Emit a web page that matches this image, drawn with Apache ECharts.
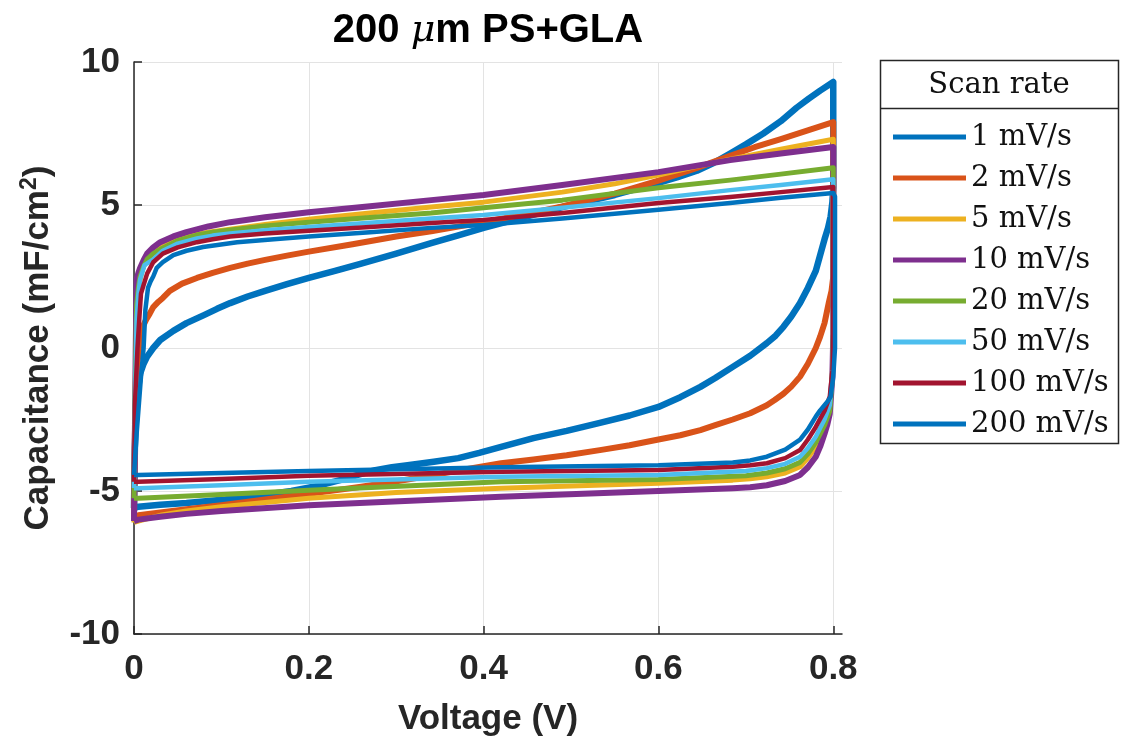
<!DOCTYPE html>
<html><head><meta charset="utf-8">
<script src="https://cdn.jsdelivr.net/npm/echarts@6/dist/echarts.min.js"></script>
<style>html,body{margin:0;padding:0;background:#fff}#c{width:1121px;height:743px}</style>
</head><body><div id="c"></div>
<script>
// ---- data ----
const scanRates = ['1 mV/s','2 mV/s','5 mV/s','10 mV/s','20 mV/s','50 mV/s','100 mV/s','200 mV/s'];
const seriesColors = ['#0072BD','#D95319','#EDB120','#7E2F8E','#77AC30','#4DBEEE','#A2142F','#0072BD'];
const xTicks = [0, 0.2, 0.4, 0.6, 0.8];
const yTicks = [-10, -5, 0, 5, 10];

// each loop: [voltage (V), capacitance (mF/cm2)], in scan order (forward then reverse)
const rate1 = [[0,-5.6],[0.001,-3.5],[0.003,-1.8],[0.007,-0.9],[0.011,-0.55],[0.015,-0.3],[0.022,0.0],[0.03,0.28],[0.045,0.6],[0.06,0.87],[0.08,1.15],[0.095,1.37],[0.11,1.57],[0.13,1.8],[0.15,2.0],[0.175,2.23],[0.2,2.45],[0.23,2.7],[0.26,2.95],[0.3,3.3],[0.34,3.67],[0.37,3.93],[0.4,4.2],[0.45,4.6],[0.49,4.93],[0.55,5.35],[0.6,5.77],[0.622,5.97],[0.644,6.2],[0.663,6.47],[0.682,6.8],[0.7,7.12],[0.72,7.5],[0.74,7.93],[0.758,8.4],[0.772,8.72],[0.785,9.0],[0.8,9.3],
  [0.8,5.6],[0.799,5.1],[0.797,4.6],[0.794,4.2],[0.79,3.8],[0.785,3.25],[0.78,2.7],[0.771,2.1],[0.762,1.57],[0.752,1.1],[0.743,0.74],[0.734,0.43],[0.724,0.17],[0.705,-0.27],[0.685,-0.66],[0.665,-1.05],[0.648,-1.36],[0.625,-1.72],[0.6,-2.06],[0.567,-2.36],[0.533,-2.62],[0.495,-2.9],[0.457,-3.15],[0.42,-3.46],[0.395,-3.67],[0.371,-3.85],[0.343,-3.98],[0.313,-4.1],[0.295,-4.17],[0.276,-4.27],[0.258,-4.42],[0.238,-4.6],[0.21,-4.82],[0.18,-5.0],[0.14,-5.17],[0.104,-5.3],[0.06,-5.42],[0.03,-5.48],[0.005,-5.55],[0,-5.6]];
const rate2 = [[0,-5.9],[0.001,-3],[0.004,-0.5],[0.008,0.4],[0.01,0.74],[0.014,1.0],[0.018,1.2],[0.022,1.43],[0.028,1.62],[0.033,1.75],[0.041,2.0],[0.055,2.25],[0.072,2.45],[0.09,2.63],[0.11,2.8],[0.13,2.95],[0.15,3.08],[0.175,3.23],[0.2,3.37],[0.25,3.63],[0.3,3.9],[0.34,4.08],[0.4,4.4],[0.45,4.7],[0.49,4.95],[0.55,5.4],[0.6,5.85],[0.644,6.3],[0.682,6.72],[0.71,7.02],[0.74,7.3],[0.77,7.6],[0.8,7.9],
  [0.8,2.5],[0.798,2.0],[0.795,1.6],[0.79,0.87],[0.785,0.4],[0.78,0],[0.771,-0.55],[0.762,-1.0],[0.752,-1.35],[0.743,-1.6],[0.733,-1.82],[0.724,-2.0],[0.705,-2.28],[0.685,-2.5],[0.665,-2.7],[0.648,-2.87],[0.625,-3.05],[0.6,-3.2],[0.567,-3.4],[0.533,-3.57],[0.495,-3.75],[0.457,-3.9],[0.42,-4.03],[0.365,-4.32],[0.313,-4.6],[0.26,-4.85],[0.2,-5.1],[0.15,-5.3],[0.1,-5.5],[0.06,-5.64],[0.03,-5.75],[0.005,-5.85],[0,-5.9]];
const rate5 = [[0,-6.1],[0.001,-3],[0.003,0],[0.005,2.0],[0.007,2.4],[0.01,2.8],[0.015,3.13],[0.02,3.35],[0.033,3.6],[0.045,3.77],[0.06,3.9],[0.085,4.05],[0.11,4.15],[0.15,4.32],[0.2,4.5],[0.27,4.72],[0.34,4.93],[0.4,5.1],[0.49,5.45],[0.55,5.74],[0.6,6.05],[0.64,6.33],[0.682,6.6],[0.74,6.95],[0.8,7.3],
  [0.8,0.5],[0.799,-0.8],[0.797,-1.8],[0.794,-2.25],[0.79,-2.6],[0.785,-3.05],[0.78,-3.45],[0.771,-3.85],[0.762,-4.15],[0.745,-4.37],[0.724,-4.5],[0.705,-4.57],[0.685,-4.62],[0.6,-4.73],[0.42,-4.9],[0.3,-5.05],[0.2,-5.25],[0.1,-5.55],[0.06,-5.7],[0.03,-5.85],[0.005,-6.05],[0,-6.1]];
const rate10 = [[0,-6.05],[0.001,-3],[0.002,0],[0.003,2.4],[0.005,2.62],[0.007,2.8],[0.011,3.07],[0.015,3.3],[0.022,3.52],[0.03,3.7],[0.045,3.9],[0.06,4.05],[0.085,4.25],[0.11,4.4],[0.15,4.57],[0.2,4.75],[0.27,4.96],[0.34,5.17],[0.4,5.35],[0.49,5.7],[0.6,6.15],[0.682,6.57],[0.74,6.8],[0.8,7.03],
  [0.8,0.5],[0.799,-1],[0.796,-2.3],[0.793,-2.7],[0.79,-3.0],[0.785,-3.45],[0.78,-3.8],[0.771,-4.17],[0.762,-4.44],[0.745,-4.65],[0.724,-4.8],[0.705,-4.87],[0.685,-4.9],[0.6,-5.0],[0.42,-5.2],[0.2,-5.5],[0.1,-5.7],[0.06,-5.8],[0.03,-5.9],[0.005,-6.0],[0,-6.05]];
const rate20 = [[0,-5.25],[0.001,-2],[0.003,1.5],[0.005,2.1],[0.007,2.5],[0.011,2.85],[0.015,3.1],[0.022,3.3],[0.033,3.5],[0.05,3.75],[0.072,3.95],[0.09,4.05],[0.11,4.13],[0.15,4.27],[0.2,4.4],[0.27,4.56],[0.34,4.72],[0.4,4.9],[0.49,5.17],[0.6,5.6],[0.682,5.87],[0.74,6.08],[0.8,6.3],
  [0.8,0.5],[0.799,-1],[0.796,-2.2],[0.793,-2.45],[0.79,-2.7],[0.785,-3.0],[0.78,-3.3],[0.771,-3.7],[0.762,-4.0],[0.745,-4.22],[0.724,-4.37],[0.7,-4.47],[0.6,-4.6],[0.42,-4.68],[0.2,-4.97],[0.1,-5.12],[0.005,-5.25],[0,-5.25]];
const rate50 = [[0,-4.9],[0.001,-2],[0.003,1.0],[0.005,1.9],[0.007,2.4],[0.012,2.9],[0.022,3.1],[0.033,3.4],[0.05,3.65],[0.072,3.83],[0.09,3.93],[0.11,4.0],[0.15,4.12],[0.2,4.23],[0.27,4.38],[0.34,4.53],[0.4,4.65],[0.49,4.9],[0.6,5.24],[0.682,5.52],[0.74,5.7],[0.8,5.9],
  [0.8,0.5],[0.799,-1],[0.796,-2],[0.793,-2.25],[0.79,-2.5],[0.785,-2.8],[0.78,-3.1],[0.771,-3.5],[0.762,-3.8],[0.745,-4.05],[0.724,-4.2],[0.7,-4.3],[0.6,-4.44],[0.42,-4.5],[0.2,-4.68],[0.1,-4.8],[0.005,-4.9],[0,-4.9]];
const rate100 = [[0,-4.68],[0.001,-2],[0.004,0],[0.006,1.0],[0.008,1.9],[0.01,2.1],[0.015,2.6],[0.022,3.0],[0.033,3.3],[0.05,3.52],[0.072,3.7],[0.09,3.8],[0.11,3.9],[0.15,4.0],[0.2,4.1],[0.27,4.23],[0.34,4.37],[0.4,4.48],[0.49,4.72],[0.6,5.07],[0.682,5.28],[0.74,5.45],[0.8,5.63],
  [0.8,0.5],[0.799,-0.8],[0.796,-1.7],[0.793,-1.95],[0.79,-2.2],[0.785,-2.48],[0.78,-2.76],[0.771,-3.2],[0.762,-3.57],[0.745,-3.85],[0.724,-4.03],[0.705,-4.1],[0.685,-4.15],[0.6,-4.27],[0.42,-4.33],[0.2,-4.47],[0.1,-4.58],[0.005,-4.68],[0,-4.68]];
const rate200 = [[0,-4.44],[0.003,-3],[0.008,-1],[0.011,0],[0.013,1.33],[0.016,2.1],[0.019,2.33],[0.022,2.5],[0.026,2.8],[0.033,3.0],[0.045,3.25],[0.06,3.4],[0.079,3.53],[0.118,3.7],[0.16,3.8],[0.2,3.9],[0.27,4.05],[0.34,4.2],[0.4,4.3],[0.49,4.53],[0.6,4.83],[0.682,5.07],[0.74,5.25],[0.8,5.42],
  [0.802,5.3],[0.802,0],[0.8,-1],[0.797,-1.7],[0.794,-1.85],[0.79,-2.0],[0.785,-2.18],[0.78,-2.4],[0.771,-2.85],[0.762,-3.2],[0.745,-3.55],[0.724,-3.8],[0.705,-3.93],[0.685,-4.0],[0.6,-4.1],[0.42,-4.17],[0.2,-4.3],[0.1,-4.37],[0.005,-4.44],[0,-4.44]];

const loops = [rate1, rate2, rate5, rate10, rate20, rate50, rate100, rate200];
const lineWidths = [6.5, 6, 5, 6, 5, 4.5, 4.5, 4.5];

// ---- chart ----
const chart = echarts.init(document.getElementById('c'), null, {renderer: 'canvas'});
const axisColor = '#262626';
const sans = 'Liberation Sans, Arial, Helvetica, sans-serif';
const serif = 'DejaVu Serif, serif';

const series = loops.map((d, i) => ({
  name: scanRates[i],
  type: 'line',
  data: d,
  showSymbol: false,
  symbol: 'none',
  clip: false,
  lineStyle: {color: seriesColors[i], width: lineWidths[i], join: 'round'},
  itemStyle: {color: seriesColors[i]},
  emphasis: {disabled: true}
}));

chart.setOption({
  animation: false,
  backgroundColor: '#fff',
  grid: {left: 134, top: 62, width: 708, height: 572, containLabel: false},
  xAxis: {
    type: 'value', min: 0, max: 0.81, interval: 0.2,
    name: 'Voltage (V)', nameLocation: 'middle', nameGap: 68,
    nameTextStyle: {fontFamily: sans, fontWeight: 'bold', fontSize: 35, color: axisColor},
    axisLine: {show: true, onZero: false, lineStyle: {color: axisColor, width: 1.5}},
    axisTick: {show: true, inside: true, length: 8, customValues: xTicks, lineStyle: {color: axisColor, width: 1.5}},
    axisLabel: {customValues: xTicks, margin: 18, fontFamily: sans, fontWeight: 'bold', fontSize: 35, color: axisColor,
      formatter: v => String(+v.toFixed(1))},
    splitLine: {show: true, lineStyle: {color: '#e3e3e3', width: 1}}
  },
  yAxis: {
    type: 'value', min: -10, max: 10, interval: 5,
    name: '{a|Capacitance (mF/cm}{s|2}{a|)}', nameLocation: 'middle', nameGap: 76,
    nameTextStyle: {fontFamily: sans, fontWeight: 'bold', fontSize: 35, color: axisColor,
      rich: {
        a: {fontFamily: sans, fontWeight: 'bold', fontSize: 35, color: axisColor, lineHeight: 40},
        s: {fontFamily: sans, fontWeight: 'bold', fontSize: 23, color: axisColor, verticalAlign: 'top', lineHeight: 40, padding: [0, 0, 14, 0]}
      }},
    axisLine: {show: true, onZero: false, lineStyle: {color: axisColor, width: 1.5}},
    axisTick: {show: true, inside: true, length: 8, customValues: yTicks, lineStyle: {color: axisColor, width: 1.5}},
    axisLabel: {customValues: yTicks, margin: 14, fontFamily: sans, fontWeight: 'bold', fontSize: 35, color: axisColor},
    splitLine: {show: true, lineStyle: {color: '#e3e3e3', width: 1}}
  },
  legend: {
    show: true, orient: 'vertical', left: 888, top: 115,
    icon: 'rect', itemWidth: 73, itemHeight: 5, itemGap: 7,
    data: scanRates,
    selectedMode: false,
    textStyle: {fontFamily: serif, fontSize: 29, color: '#111', lineHeight: 34}
  },
  graphic: [
    {type: 'rect', z: -1, shape: {x: 880.5, y: 60.5, width: 238, height: 383},
      style: {fill: '#fff', stroke: axisColor, lineWidth: 1.5}},
    {type: 'line', shape: {x1: 880.5, y1: 108.5, x2: 1118.5, y2: 108.5},
      style: {stroke: axisColor, lineWidth: 1.5}},
    {type: 'text', x: 999, y: 85, style: {text: 'Scan rate', fontFamily: serif, fontSize: 29, fill: '#111', align: 'center', verticalAlign: 'middle'}},
    {type: 'text', x: 488, y: 31, style: {
      text: '{a|200 }{b|μ}{a|m PS+GLA}', align: 'center', verticalAlign: 'middle',
      rich: {
        a: {fontFamily: sans, fontWeight: 'bold', fontSize: 40, fill: '#000', color: '#000'},
        b: {fontFamily: 'DejaVu Serif, serif', fontStyle: 'italic', fontSize: 38, fill: '#000', color: '#000'}
      }
    }}
  ],
  series: series
});
</script></body></html>
